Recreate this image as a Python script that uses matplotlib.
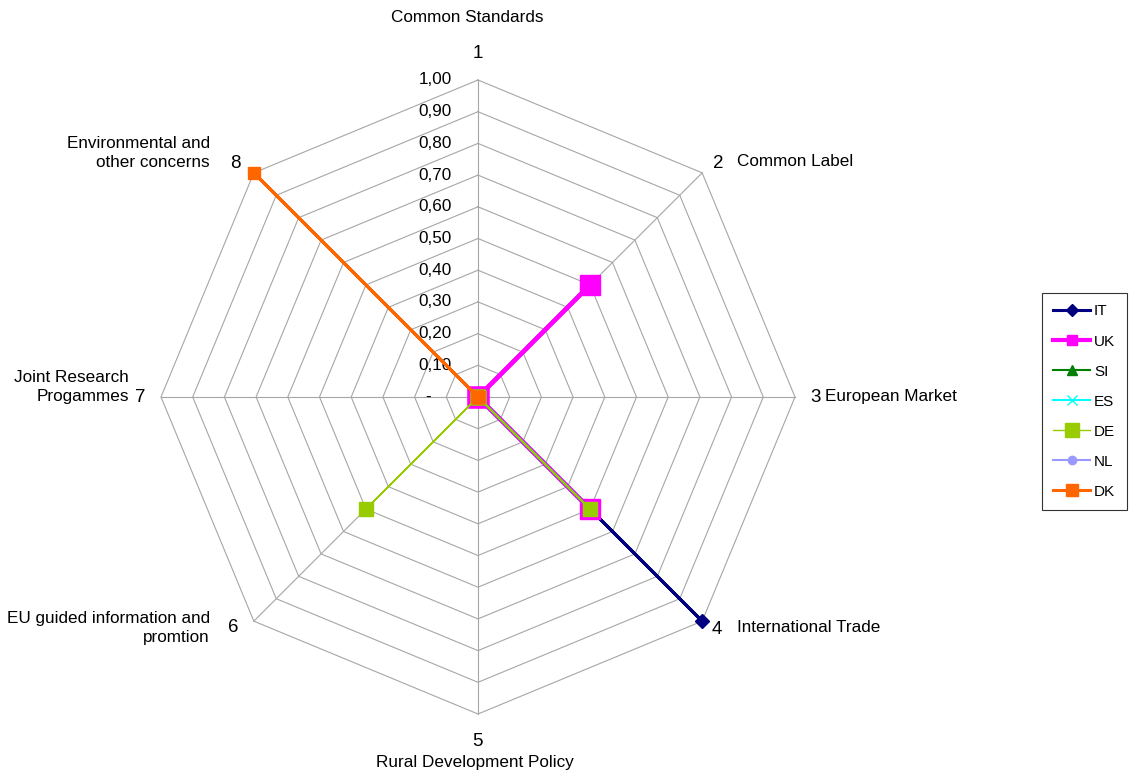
import matplotlib.pyplot as plt
from matplotlib.lines import Line2D
import numpy as np

plt.rcParams['font.family'] = ['Liberation Sans', 'DejaVu Sans']

categories = ["Common Standards", "Common Label", "European Market", "International Trade",
              "Rural Development Policy", "EU guided information and\npromtion",
              "Joint Research\nProgammes", "Environmental and\nother concerns"]
axis_numbers = ["1", "2", "3", "4", "5", "6", "7", "8"]
ring_values = [0.1, 0.2, 0.3, 0.4, 0.5, 0.6, 0.7, 0.8, 0.9, 1.0]
ring_labels = ["0,10", "0,20", "0,30", "0,40", "0,50", "0,60", "0,70", "0,80", "0,90", "1,00"]

series_names = ["IT", "UK", "SI", "ES", "DE", "NL", "DK"]
IT = [0, 0, 0, 1.0, 0, 0, 0, 0]
UK = [0, 0.5, 0, 0.5, 0, 0, 0, 0]
SI = [0, 0, 0, 0.5, 0, 0, 0, 0]
ES = [0, 0, 0, 0.5, 0, 0, 0, 0]
DE = [0, 0, 0, 0.5, 0, 0.5, 0, 0]
NL = [0, 0, 0, 0, 0, 0, 0, 0]
DK = [0, 0, 0, 0, 0, 0, 0, 1.0]

# styles: color, marker, plot markersize, linewidth, legend markersize
styles = {
    "IT": ("#000080", "D", 7, 2.2, 6),
    "UK": ("#FF00FF", "s", 14, 3.0, 6.5),
    "SI": ("#008000", "^", 7, 1.5, 7),
    "ES": ("#00FFFF", "x", 7, 1.5, 7),
    "DE": ("#99CC00", "s", 10, 1.0, 10),
    "NL": ("#9999FF", "o", 6, 1.5, 6),
    "DK": ("#FF6600", "s", 9, 2.2, 8),
}

W, H = 1130, 775
cx, cy, R = 478, 397, 317

fig = plt.figure(figsize=(W / 100, H / 100), dpi=100)
ax = fig.add_axes([0, 0, 1, 1])
ax.set_xlim(-cx / R, (W - cx) / R)
ax.set_ylim(-(H - cy) / R, cy / R)
ax.axis('off')

n = len(categories)
ang = np.radians(90 - 45 * np.arange(n))
ang_c = np.append(ang, ang[0])

grid_c = "#A6A6A6"
for r in ring_values:
    ax.plot(r * np.cos(ang_c), r * np.sin(ang_c), color=grid_c, lw=0.8, zorder=1)
for a in ang:
    ax.plot([0, np.cos(a)], [0, np.sin(a)], color=grid_c, lw=0.8, zorder=1)

fs = 12.3
for r, lab in zip(ring_values, ring_labels):
    ax.text(-26 / R, r, lab, ha='right', va='center', fontsize=fs)
ax.text(-47 / R, 0, "-", ha='right', va='center', fontsize=fs)

# axis numbers (pixel positions)
num_pos = [(478, 53), (718, 164), (816, 397), (717, 629),
           (477, 742), (233, 628), (140, 397), (235, 164)]
for (px, py), num in zip(num_pos, axis_numbers):
    ax.text((px - cx) / R, (cy - py) / R, num, ha='center', va='center', fontsize=13.5)

# category names (pixel offsets)
cat_pos = [
    (467, 18, 'center'), (737, 161, 'left'), (825, 396, 'left'), (737, 627, 'left'),
    (475, 763, 'center'), (210, 628, 'right'), (129, 387, 'right'), (210, 153, 'right'),
]
for (px, py, ha), name in zip(cat_pos, categories):
    ax.text((px - cx) / R, (cy - py) / R, name, ha=ha, va='center', fontsize=fs,
            multialignment='right' if ha == 'right' else 'center', linespacing=1.35)

data = {"IT": IT, "UK": UK, "SI": SI, "ES": ES, "DE": DE, "NL": NL, "DK": DK}
handles = []
for name in series_names:
    vals = np.array(data[name])
    vals_c = np.append(vals, vals[0])
    col, mk, ms, lw, lms = styles[name]
    ax.plot(vals_c * np.cos(ang_c), vals_c * np.sin(ang_c), color=col, lw=lw,
            marker=mk, markersize=ms, markeredgecolor=col, markerfacecolor=col,
            markeredgewidth=1.5 if mk == 'x' else 1, zorder=3)
    handles.append(Line2D([], [], color=col, lw=lw, marker=mk, markersize=lms,
                          markeredgecolor=col, markerfacecolor=col))

leg = fig.legend(handles, series_names, loc='upper left',
                 bbox_to_anchor=(1042 / W, 1 - 293 / H), borderaxespad=0, fontsize=11,
                 frameon=True, fancybox=False, edgecolor='black', handlelength=2.4,
                 handletextpad=0.25, labelspacing=1.05, borderpad=0.75)
leg.get_frame().set_linewidth(0.8)

fig.savefig("out.png", dpi=100)
